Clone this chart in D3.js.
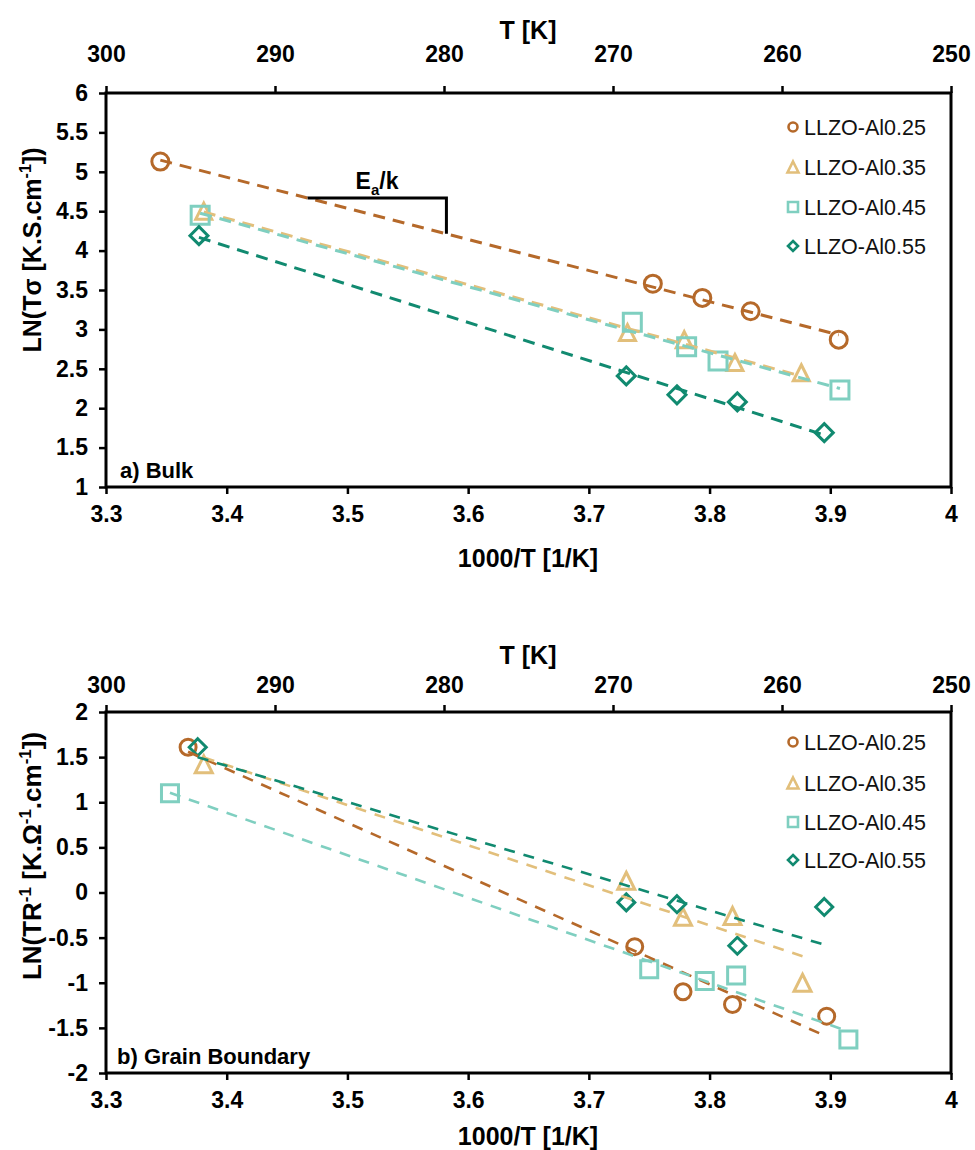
<!DOCTYPE html>
<html><head><meta charset="utf-8">
<script src="https://cdn.jsdelivr.net/npm/d3@7"></script>
<style>body{margin:0;background:#fff}svg{display:block}text{font-family:"Liberation Sans",Arial,sans-serif}</style>
</head><body>
<div id="chart"></div>
<script>
// ---------- data ----------
const seriesNames = ["LLZO-Al0.25","LLZO-Al0.35","LLZO-Al0.45","LLZO-Al0.55"];
const seriesColors = ["#B5692A","#E2BF7B","#7FCFC0","#118A70"];
const seriesShapes = ["circle","triangle","square","diamond"];

const xTicks = [3.3,3.4,3.5,3.6,3.7,3.8,3.9,4];
const tTicks = [300,290,280,270,260,250];
const bulkYTicks = [1,1.5,2,2.5,3,3.5,4,4.5,5,5.5,6];
const gbYTicks = [-2,-1.5,-1,-0.5,0,0.5,1,1.5,2];

// Bulk: 1000/T and LN(T sigma)
const bulkX025 = [3.345,3.753,3.794,3.834,3.907];
const bulkY025 = [5.13,3.58,3.40,3.23,2.87];
const bulkX035 = [3.381,3.732,3.779,3.821,3.876];
const bulkY035 = [4.50,2.96,2.87,2.58,2.45];
const bulkX045 = [3.378,3.736,3.781,3.807,3.908];
const bulkY045 = [4.45,3.09,2.78,2.60,2.23];
const bulkX055 = [3.377,3.731,3.773,3.823,3.895];
const bulkY055 = [4.19,2.41,2.17,2.08,1.69];

// Grain boundary: 1000/T and LN(T/R)
const gbX025 = [3.368,3.738,3.778,3.819,3.897];
const gbY025 = [1.61,-0.60,-1.10,-1.24,-1.37];
const gbX035 = [3.381,3.731,3.778,3.819,3.877];
const gbY035 = [1.42,0.13,-0.27,-0.26,-1.00];
const gbX045 = [3.353,3.750,3.796,3.822,3.915];
const gbY045 = [1.10,-0.85,-0.98,-0.92,-1.63];
const gbX055 = [3.376,3.731,3.773,3.823,3.895];
const gbY055 = [1.61,-0.11,-0.13,-0.59,-0.16];

// slope annotation range (1000/T) on bulk Al0.25 trend
const slopeRange = [3.467,3.582];

// ---------- drawing ----------
const W=975,H=1150;
const svg=d3.select("#chart").append("svg").attr("width",W).attr("height",H);
const FONT='"Liberation Sans",Arial,sans-serif';
const fmt=d=>String(d);

function shapePath(type,s){
  const h=s/2;
  if(type==="circle"){return `M${h},0A${h},${h} 0 1,1 ${-h},0A${h},${h} 0 1,1 ${h},0Z`;}
  if(type==="square"){return `M${-h},${-h}H${h}V${h}H${-h}Z`;}
  if(type==="triangle"){return `M0,${-h}L${h},${h}L${-h},${h}Z`;}
  if(type==="diamond"){return `M0,${-h}L${h},0L0,${h}L${-h},0Z`;}
}

function fit(xs,ys){
  const n=xs.length,mx=d3.mean(xs),my=d3.mean(ys);
  let sxy=0,sxx=0;
  for(let i=0;i<n;i++){sxy+=(xs[i]-mx)*(ys[i]-my);sxx+=(xs[i]-mx)**2;}
  const b=sxy/sxx,a=my-b*mx;
  return x=>a+b*x;
}

function panel(cfg){
  const x=d3.scaleLinear().domain([3.3,4]).range([106,951]);
  const xt=d3.scaleLinear().domain([300,250]).range([106,951]);
  const y=d3.scaleLinear().domain(cfg.yDomain).range([cfg.bottom,cfg.top]);
  const g=svg.append("g");

  g.append("rect").attr("x",106).attr("y",cfg.top).attr("width",951-106).attr("height",cfg.bottom-cfg.top)
    .attr("fill","none").attr("stroke","#000").attr("stroke-width",3);

  const styleAxis=(sel)=>{
    sel.select(".domain").remove();
    sel.selectAll(".tick line").attr("stroke","#000").attr("stroke-width",2.5);
    sel.selectAll(".tick text").attr("font-family",FONT).attr("font-weight","bold").attr("font-size",23).attr("fill","#000");
  };
  const gb=g.append("g").attr("transform",`translate(0,${cfg.bottom})`)
    .call(d3.axisBottom(x).tickValues(xTicks).tickFormat(fmt).tickSize(7).tickPadding(12));
  styleAxis(gb);
  const gt=g.append("g").attr("transform",`translate(0,${cfg.top})`)
    .call(d3.axisTop(xt).tickValues(tTicks).tickFormat(fmt).tickSize(7).tickPadding(cfg.topPad));
  styleAxis(gt);
  const gl=g.append("g").attr("transform",`translate(106,0)`)
    .call(d3.axisLeft(y).tickValues(cfg.yTicks).tickFormat(fmt).tickSize(7).tickPadding(11));
  styleAxis(gl);

  g.append("text").attr("x",528).attr("y",cfg.top-cfg.tTitleOff).attr("text-anchor","middle")
    .attr("font-weight","bold").attr("font-size",25).text("T [K]");
  g.append("text").attr("x",528).attr("y",cfg.bottom+cfg.xTitleOff).attr("text-anchor","middle")
    .attr("font-weight","bold").attr("font-size",25).text("1000/T [1/K]");
  const yt=g.append("text").attr("transform",`translate(41,${cfg.yTitleY}) rotate(-90)`).attr("text-anchor","middle")
    .attr("font-weight","bold").attr("font-size",cfg.yTitleSize);
  cfg.yTitle(yt);

  g.append("text").attr("x",cfg.labelX).attr("y",cfg.bottom-9).attr("font-weight","bold").attr("font-size",22).text(cfg.label);

  cfg.xs.forEach((xs,si)=>{
    const ys=cfg.ys[si];
    g.append("g").selectAll("path").data(xs.map((d,i)=>[d,ys[i]])).join("path")
      .attr("transform",d=>`translate(${x(d[0])},${y(d[1])})`)
      .attr("d",shapePath(seriesShapes[si],cfg.mSize[si]))
      .attr("fill","none").attr("stroke",seriesColors[si]).attr("stroke-width",3);
  });
  const fits=[];
  cfg.xs.forEach((xs,si)=>{
    const f=fit(xs,cfg.ys[si]);fits.push(f);
    const x0=d3.min(xs),x1=d3.max(xs);
    g.append("line").attr("x1",x(x0)).attr("y1",y(f(x0))).attr("x2",x(x1)).attr("y2",y(f(x1)))
      .attr("stroke",seriesColors[si]).attr("stroke-width",cfg.lineW).attr("stroke-dasharray",cfg.dash);
  });

  seriesNames.forEach((nm,si)=>{
    const ly=cfg.legendY[si];
    g.append("path").attr("transform",`translate(793,${ly})`).attr("d",shapePath(seriesShapes[si],si===0?9:(si===1?11:10)))
      .attr("fill","none").attr("stroke",seriesColors[si]).attr("stroke-width",2.6);
    g.append("text").attr("x",804).attr("y",ly+7.5).attr("font-size",21.5).attr("fill","#111").text(nm);
  });
  return {x,y,g,fits};
}

function sup(t,s,size){t.append("tspan").attr("font-size",size).attr("dy",-10).text(s);}

const topPanel=panel({
  top:93,bottom:487,yDomain:[1,6],yTicks:bulkYTicks,
  topPad:24,tTitleOff:54,xTitleOff:80,yTitleY:250,yTitleSize:25,
  yTitle:t=>{t.append("tspan").text("LN(Tσ [K.S.cm");sup(t,"-1",16);t.append("tspan").attr("dy",10).text("])");},
  label:"a) Bulk",labelX:120,
  xs:[bulkX025,bulkX035,bulkX045,bulkX055],ys:[bulkY025,bulkY035,bulkY045,bulkY055],
  mSize:[17,16,18,18],lineW:3,dash:"12,8",
  legendY:[127,167,207,246]
});
{
  const {x,y,g,fits}=topPanel;const f=fits[0];
  const xa=slopeRange[0],xb=slopeRange[1];
  g.append("path").attr("d",`M${x(xa)},${y(f(xa))}H${x(xb)}V${y(f(xb))}`)
    .attr("fill","none").attr("stroke","#000").attr("stroke-width",3);
  const tx=g.append("text").attr("x",(x(xa)+x(xb))/2).attr("y",y(f(xa))-9).attr("text-anchor","middle")
    .attr("font-weight","bold").attr("font-size",23);
  tx.append("tspan").text("E");
  tx.append("tspan").attr("font-size",15).attr("dy",6).text("a");
  tx.append("tspan").attr("dy",-6).text("/k");
}

panel({
  top:712,bottom:1073,yDomain:[-2,2],yTicks:gbYTicks,
  topPad:12,tTitleOff:48,xTitleOff:72,yTitleY:856,yTitleSize:26,
  yTitle:t=>{t.append("tspan").text("LN(TR");sup(t,"-1",17);
    t.append("tspan").attr("dy",10).text(" [K.Ω");sup(t,"-1",17);
    t.append("tspan").attr("dy",10).text(".cm");sup(t,"-1",17);
    t.append("tspan").attr("dy",10).text("])");},
  label:"b) Grain Boundary",labelX:117,
  xs:[gbX025,gbX035,gbX045,gbX055],ys:[gbY025,gbY035,gbY045,gbY055],
  mSize:[16,17,17,17],lineW:2.6,dash:"11,9",
  legendY:[742,783,822,860]
});
</script>
</body></html>
